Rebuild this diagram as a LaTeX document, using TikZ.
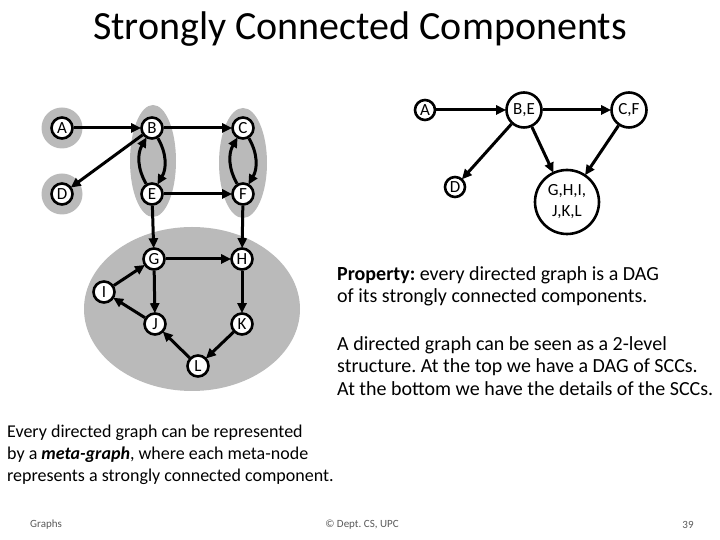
\documentclass[tikz,border=0pt]{standalone}
\usepackage{fontspec}
\setmainfont{Carlito}
\usetikzlibrary{arrows.meta}
\begin{document}
\frenchspacing
\begin{tikzpicture}[x=1pt,y=1pt,
  vert/.style={circle,draw=black,line width=2.6pt,fill=white,inner sep=0pt,minimum size=21pt,font=\fontsize{17}{17}\selectfont},
  meta/.style={circle,draw=black,line width=2.6pt,fill=white,inner sep=0pt,font=\fontsize{17}{21}\selectfont,align=center},
  blob/.style={fill=black!27,draw=none},
  arr/.style={-{Triangle[length=10pt,width=9pt]},line width=3pt,shorten >=-1pt},
  para/.style={anchor=north west,align=left,inner sep=0pt,font=\fontsize{20}{22.5}\selectfont},
  foot/.style={inner sep=0pt,font=\fontsize{11}{13}\selectfont,text=black!65}]
\useasboundingbox (0,0) rectangle (720,540);
% title
\node[inner sep=0pt,font=\fontsize{40}{44}\selectfont] (title) at (360,511) {Strongly Connected Components};
% gray SCC blobs
\fill[blob] (62,412) circle (20.5);
\fill[blob] (62,346) circle (20.5);
\fill[blob] (153,379) ellipse (23 and 56);
\fill[blob] (243,377) ellipse (24 and 55);
\fill[blob] (192,231) ellipse (108 and 82);
% vertices
\node[vert] (A) at (62,412) {A};
\node[vert] (B) at (152,412) {B};
\node[vert] (C) at (243,412) {C};
\node[vert] (D) at (62,346) {D};
\node[vert] (E) at (152,346) {E};
\node[vert] (F) at (243,346) {F};
\node[vert] (G) at (154,281) {G};
\node[vert] (H) at (242,281) {H};
\node[vert] (I) at (104,248) {I};
\node[vert] (J) at (155,216) {J};
\node[vert] (K) at (242,216) {K};
\node[vert] (L) at (198,174) {L};
% edges
\draw[arr] (A) -- (B);
\draw[arr] (B) -- (C);
\draw[arr] (B) -- (D);
\draw[arr] (E) to[bend left=30] (B);
\draw[arr] (B) to[bend left=30] (E);
\draw[arr] (F) to[bend left=30] (C);
\draw[arr] (C) to[bend left=30] (F);
\draw[arr] (E) -- (F);
\draw[arr] (E) -- (G);
\draw[arr] (F) -- (H);
\draw[arr] (G) -- (H);
\draw[arr] (G) -- (J);
\draw[arr] (I) -- (G);
\draw[arr] (J) -- (I);
\draw[arr] (H) -- (K);
\draw[arr] (K) -- (L);
\draw[arr] (L) -- (J);
% meta-graph
\node[meta,minimum size=20pt] (mA) at (425,430) {A};
\node[meta,minimum size=35pt] (mBE) at (524,430) {B,E};
\node[meta,minimum size=35pt] (mCF) at (629,430) {C,F};
\node[meta,minimum size=20pt] (mD) at (455,353) {D};
\node[meta,minimum size=64pt] (mG) at (567,338) {G,H,I,\\J,K,L};
\draw[arr] (mA) -- (mBE);
\draw[arr] (mBE) -- (mCF);
\draw[arr] (mBE) -- (mD);
\draw[arr] (mBE) -- (mG);
\draw[arr] (mCF) -- (mG);
% texts
\node[para] (prop) at (337,274) {\textbf{Property:} every directed graph is a DAG\\of its strongly connected components.};
\node[para] (lev) at (337,204) {A directed graph can be seen as a 2-level\\structure. At the top we have a DAG of SCCs.\\At the bottom we have the details of the SCCs.};
\node[para,font=\fontsize{18}{22}\selectfont] (every) at (7,115) {Every directed graph can be represented\\by a \textbf{\textit{meta-graph}}, where each meta-node\\represents a strongly connected component.};
\node[foot,anchor=west] (f1) at (30,15) {Graphs};
\node[foot] (f2) at (362,15) {© Dept. CS, UPC};
\node[foot] (f3) at (688,15) {39};
\end{tikzpicture}
\end{document}
